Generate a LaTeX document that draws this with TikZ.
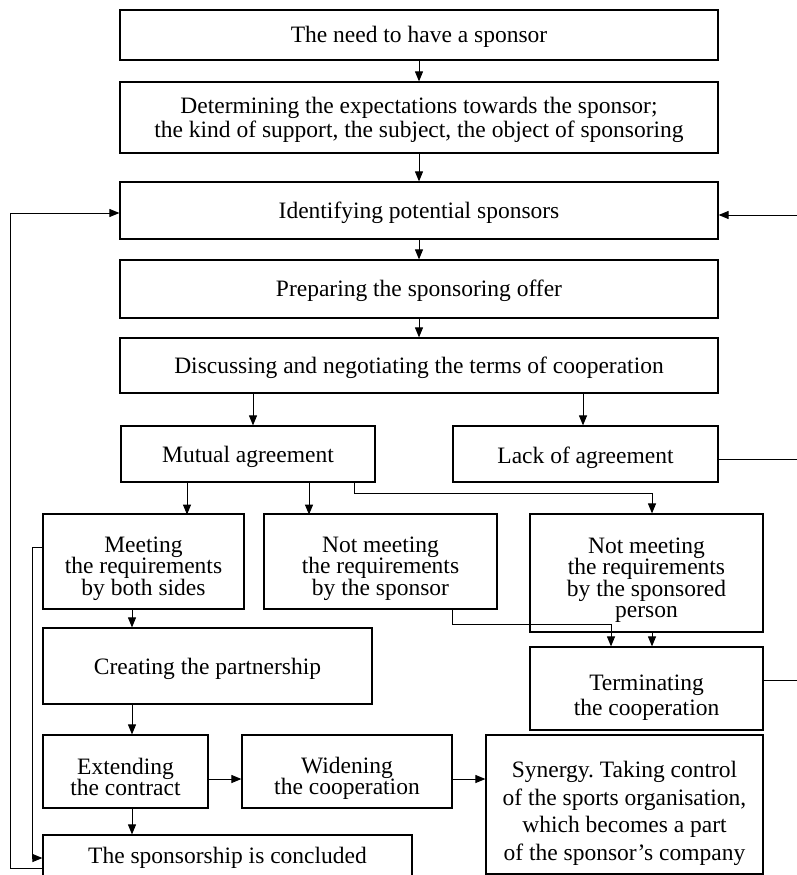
\documentclass[tikz,border=0pt]{standalone}
\usepackage{fontspec}
\setmainfont{Liberation Serif}
\usetikzlibrary{arrows.meta}
\frenchspacing

\tikzset{
  blk/.style={draw, line width=1.2pt, inner sep=0pt},
  txt/.style={align=center, inner sep=0pt, font=\fontsize{23.5}{24}\selectfont},
  tight/.style={font=\fontsize{23.5}{21.5}\selectfont},
  arr/.style={-{Triangle[length=10pt,width=8pt]}},
}

\begin{document}
\begin{tikzpicture}[x=1pt, y=-1pt, line width=1pt]
  \useasboundingbox (0,0) rectangle (797,875);

  % main column
  \node[blk, minimum width=598pt, minimum height=50pt] (need) at (419,35) {};
  \node[txt] (need-t) at ([yshift=-2pt]need) {The need to have a sponsor};
  \node[blk, minimum width=598pt, minimum height=71pt] (determ) at (419,117.5) {};
  \node[txt] (determ-t) at ([yshift=-2pt]determ) {Determining the expectations towards the sponsor;\\the kind of support, the subject, the object of sponsoring};
  \node[blk, minimum width=598pt, minimum height=57pt] (ident) at (419,210.5) {};
  \node[txt] (ident-t) at ([yshift=-2pt]ident) {Identifying potential sponsors};
  \node[blk, minimum width=598pt, minimum height=58pt] (prep) at (419,289) {};
  \node[txt] (prep-t) at ([yshift=-2pt]prep) {Preparing the sponsoring offer};
  \node[blk, minimum width=598pt, minimum height=55pt] (disc) at (419,365.5) {};
  \node[txt] (disc-t) at ([yshift=-2pt]disc) {Discussing and negotiating the terms of cooperation};

  % outcomes
  \node[blk, minimum width=254pt, minimum height=56pt] (mutual) at (248,454) {};
  \node[txt] (mutual-t) at ([yshift=-3pt]mutual) {Mutual agreement};
  \node[blk, minimum width=265pt, minimum height=56pt] (lack) at (585.5,454) {};
  \node[txt] (lack-t) at ([yshift=-4pt]lack) {Lack of agreement};
  \node[blk, minimum width=201pt, minimum height=95pt] (meet) at (143.5,561.5) {};
  \node[txt, tight] (meet-t) at ([yshift=-7pt]meet) {Meeting\\the requirements\\by both sides};
  \node[blk, minimum width=233pt, minimum height=95pt] (notspon) at (380.5,561.5) {};
  \node[txt, tight] (notspon-t) at ([yshift=-7pt]notspon) {Not meeting\\the requirements\\by the sponsor};
  \node[blk, minimum width=233pt, minimum height=118pt] (notperson) at (646.5,573) {};
  \node[txt, tight] (notperson-t) at ([yshift=-7pt]notperson) {Not meeting\\the requirements\\by the sponsored\\person};

  % partnership and termination
  \node[blk, minimum width=329pt, minimum height=76pt] (create) at (207.5,666) {};
  \node[txt] (create-t) at ([yshift=-3pt]create) {Creating the partnership};
  \node[blk, minimum width=233pt, minimum height=83pt] (term) at (646.5,688.5) {};
  \node[txt, font=\fontsize{23.5}{25}\selectfont] (term-t) at ([yshift=-9pt]term) {Terminating\\the cooperation};
  \node[blk, minimum width=165pt, minimum height=73pt] (extend) at (125.5,771.5) {};
  \node[txt, tight] (extend-t) at ([yshift=-5.5pt]extend) {Extending\\the contract};
  \node[blk, minimum width=210pt, minimum height=73pt] (widen) at (347,771.5) {};
  \node[txt, tight] (widen-t) at ([yshift=-7pt]widen) {Widening\\the cooperation};
  \node[blk, minimum width=277pt, minimum height=139pt] (synergy) at (624.5,804.5) {};
  \node[txt, font=\fontsize{23.5}{27.5}\selectfont] (synergy-t) at ([yshift=-9pt]synergy) {Synergy. Taking control\\of the sports organisation,\\which becomes a part\\of the sponsor’s company};
  \node[blk, minimum width=369pt, minimum height=46pt] (concl) at (227.5,858) {};
  \node[txt] (concl-t) at (concl) {The sponsorship is concluded};

  % helper lanes
  \coordinate (c1) at (132,0);
  \coordinate (r1) at (0,779);
  \coordinate (rt) at (799,215);
  \coordinate (li) at (32,547);
  \coordinate (li2) at (32,858);
  \coordinate (lo) at (10,868);
  \coordinate (lo2) at (10,213);

  \draw[arr] (need.south) -- (determ.north);
  \draw[arr] (determ.south) -- (ident.north);
  \draw[arr] (ident.south) -- (prep.north);
  \draw[arr] (prep.south) -- (disc.north);
  \draw[arr] ([xshift=5pt]disc.south -| mutual.north) -- ([xshift=5pt]mutual.north);
  \draw[arr] ([xshift=-2.5pt]disc.south -| lack.north) -- ([xshift=-2.5pt]lack.north);

  \draw[arr] ([xshift=-61pt]mutual.south) -- ++(0,32);
  \draw[arr] ([xshift=61pt]mutual.south) -- ++(0,32);
  \draw[arr] ([xshift=106pt]mutual.south) -- ++(0,11) -| ([xshift=5.5pt]notperson.north);
  \draw[arr] ([xshift=71.5pt]notspon.south) -- ++(0,15) -| ([xshift=-35.5pt]term.north);
  \draw[arr] ([xshift=5.5pt]notperson.south) -- ([xshift=5.5pt]term.north);

  \draw ([yshift=-5pt]lack.east) -- ([yshift=-5pt]lack.east -| rt);
  \draw[arr] ([yshift=8.5pt]term.east) -| (rt) -- ([yshift=-4.5pt]ident.east);

  \draw[arr] (meet.south -| c1) -- (create.north -| c1);
  \draw[arr] (create.south -| c1) -- (extend.north -| c1);
  \draw[arr] (extend.south -| c1) -- (concl.north -| c1);
  \draw[arr] (extend.east |- r1) -- (widen.west |- r1);
  \draw[arr] (widen.east |- r1) -- (synergy.west |- r1);

  \draw[arr] (meet.west |- li) -- (li) -- (li2) -- (concl.west |- li2);
  \draw[arr] (concl.west |- lo) -- (lo) -- (lo2) -- (ident.west |- lo2);
\end{tikzpicture}
\end{document}
